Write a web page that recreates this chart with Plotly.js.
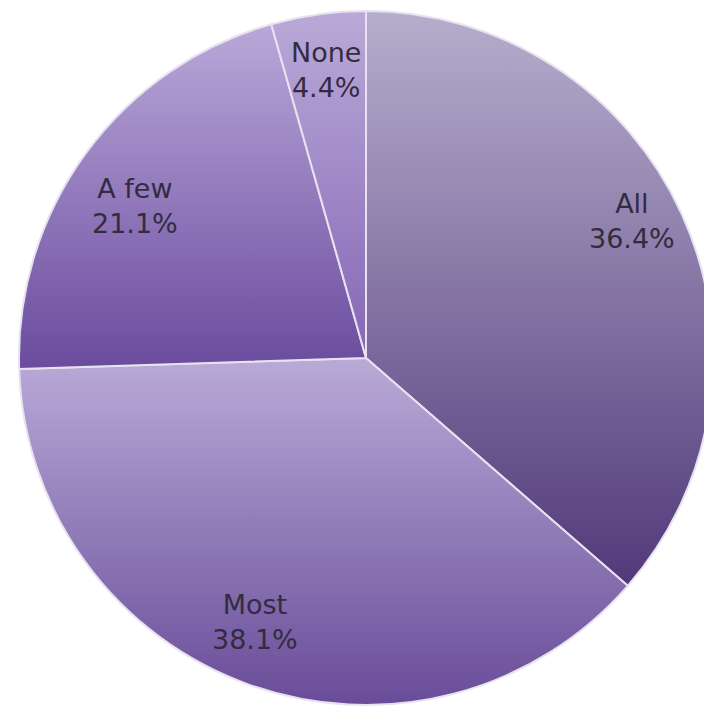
<!DOCTYPE html>
<html>
<head>
<meta charset="utf-8">
<script src="https://cdn.plot.ly/plotly-3.0.1.min.js"></script>
<style>
html,body{margin:0;padding:0;overflow:hidden;background:#fff;}
#chart{width:732px;height:715px;}
</style>
</head>
<body>
<div id="chart"></div>
<script>
const categories = ["All", "Most", "A few", "None"];
const shares = [36.4, 38.1, 21.1, 4.4];
const sliceColors = ["#8d7cb0", "#9a86c0", "#9479be", "#a58fcb"];
const gradientTop = ["#b6aecd", "#b9aad7", "#baa8d9", "#baa9d8"];
const gradientBottom = ["#52397a", "#694c99", "#6a4b9e", "#8566b5"];
const labelRadius = [0.862, 0.825, 0.797, 0.838];
const labelAngleShift = [-2.8, 3.2, -2.9, 0];

const total = shares.reduce((a, b) => a + b, 0);
let cum = 0;
const annotations = categories.map((c, i) => {
  const mid = ((cum + shares[i] / 2) / total * 360 + labelAngleShift[i]) * Math.PI / 180;
  cum += shares[i];
  return {
    xref: "paper", yref: "paper",
    x: 0.5 + 0.5 * labelRadius[i] * Math.sin(mid),
    y: 0.5 + 0.5 * labelRadius[i] * Math.cos(mid),
    xanchor: "center", yanchor: "middle",
    text: c + "<br>" + shares[i].toFixed(1) + "%",
    showarrow: false,
    font: {family: "DejaVu Sans", size: 27, color: "#332c40"},
    align: "center"
  };
});

const data = [{
  type: "pie",
  labels: categories,
  values: shares,
  sort: false,
  direction: "clockwise",
  rotation: 0,
  textinfo: "none",
  hoverinfo: "label+percent",
  marker: {colors: sliceColors, line: {color: "#e8e2f0", width: 2}}
}];

const layout = {
  width: 732, height: 715,
  margin: {l: 19, r: 19, t: 11, b: 10},
  showlegend: false,
  paper_bgcolor: "#ffffff",
  annotations: annotations
};

Plotly.newPlot("chart", data, layout, {displayModeBar: false, staticPlot: true}).then(gd => {
  const svg = gd.querySelector("svg.main-svg");
  const ns = "http://www.w3.org/2000/svg";
  const defs = document.createElementNS(ns, "defs");
  svg.insertBefore(defs, svg.firstChild);
  const paths = gd.querySelectorAll("g.slice path.surface");
  paths.forEach((p, i) => {
    const g = document.createElementNS(ns, "linearGradient");
    g.setAttribute("id", "sliceGrad" + i);
    g.setAttribute("x1", "0"); g.setAttribute("y1", "0");
    g.setAttribute("x2", "0"); g.setAttribute("y2", "1");
    [[0, gradientTop[i]], [1, gradientBottom[i]]].forEach(([o, col]) => {
      const s = document.createElementNS(ns, "stop");
      s.setAttribute("offset", o);
      s.setAttribute("stop-color", col);
      g.appendChild(s);
    });
    defs.appendChild(g);
    p.style.fill = "url(#sliceGrad" + i + ")";
  });
});
</script>
</body>
</html>
